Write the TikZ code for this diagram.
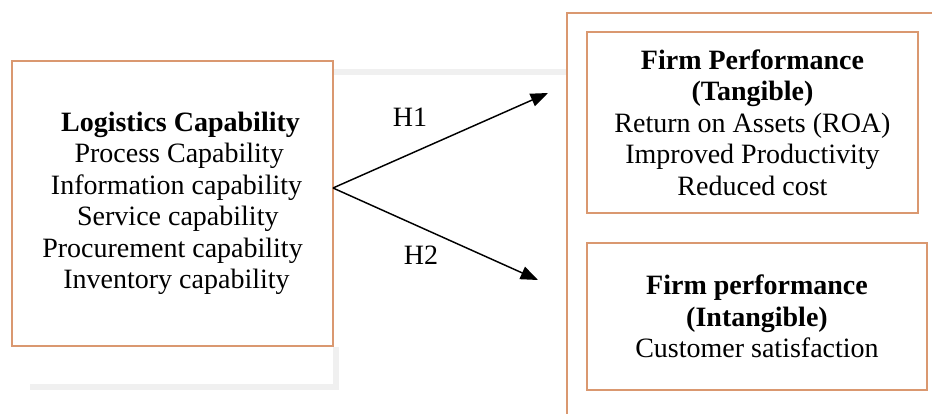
\documentclass[tikz,border=0pt]{standalone}
\usepackage{fontspec}
\setmainfont{Liberation Serif}
\usepackage{tikz}
\usetikzlibrary{arrows.meta}
\usetikzlibrary{positioning}

\definecolor{boxorange}{RGB}{218,152,112}
\tikzset{
	capbox/.style={draw=boxorange,line width=1.5pt,align=center,inner sep=0pt},
	shadowline/.style={draw=black!6,line width=4.5pt},
	hypo/.style={line width=1.1pt,-{Triangle[length=13pt,width=10pt]}}
}

\begin{document}
\begin{tikzpicture}[x=0.75pt,y=-0.75pt,font=\fontsize{21}{23.6}\selectfont]
				\useasboundingbox (0,0) rectangle (932,414);
				\clip (0,0) rectangle (932,414);
				\draw[shadowline] (333,71.5) -- (567,71.5);
				\draw[shadowline] (30,386.5) -- (335.5,386.5) -- (335.5,347);
				\draw[draw=boxorange,line width=1.5pt] (567,13) rectangle (950,430);
				\node[capbox,minimum width=240.75pt,minimum height=213.75pt] (lc) at (172.5,203.5)
					{\hspace*{12pt}\textbf{Logistics Capability}\\\hspace*{10pt}Process Capability\\\hspace*{6pt}Information capability\\\hspace*{8pt}Service capability\\Procurement capability\\\hspace*{6pt}Inventory capability};
				\node[capbox,minimum width=248.25pt,minimum height=135.75pt] (fpt) at (752.5,122.5)
					{\textbf{Firm Performance}\\\textbf{(Tangible)}\\Return on Assets (ROA)\\Improved Productivity\\Reduced cost};
				\node[capbox,minimum width=255pt,minimum height=110.25pt] (fpi) at (757,316.5)
					{\textbf{Firm performance}\\\textbf{(Intangible)}\\Customer satisfaction};
				\coordinate (fork) at (333,188);
				\coordinate (h1end) at (548,93);
				\coordinate (h2end) at (538,280);
				\draw[hypo] (fork) -- (h1end);
				\draw[hypo] (fork) -- (h2end);
				\node (h1) at (410,117) {H1};
				\node (h2) at (421,255) {H2};
			\end{tikzpicture}
\end{document}
